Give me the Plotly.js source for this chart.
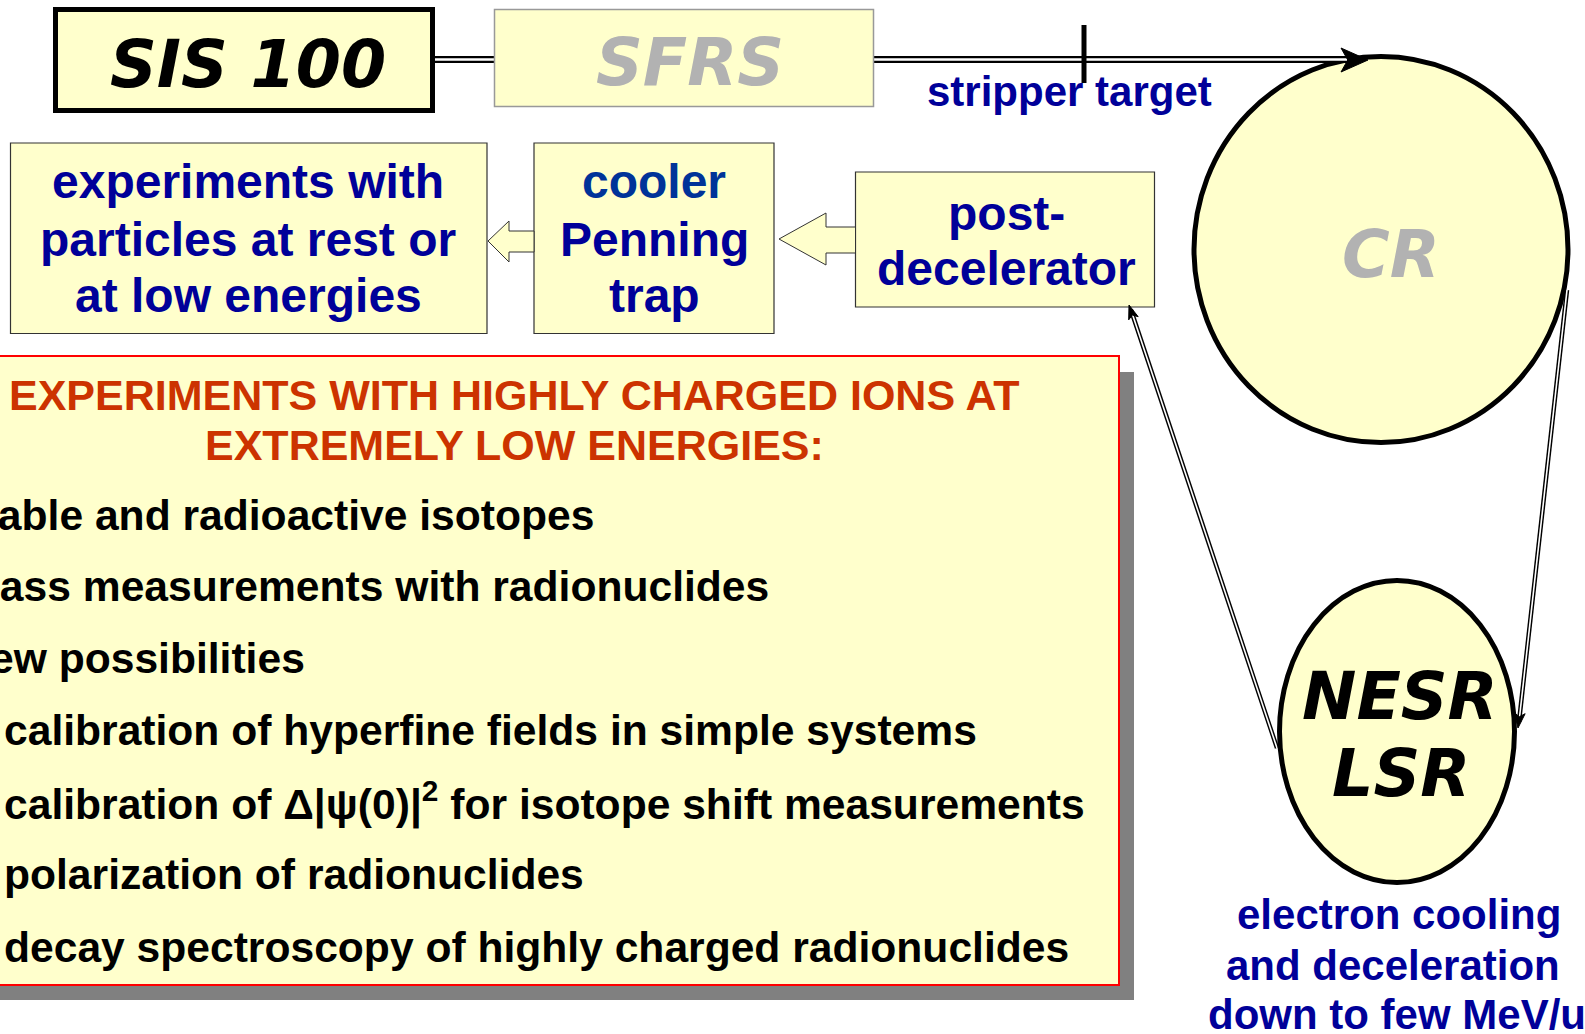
<!DOCTYPE html>
<html>
<head>
<meta charset="utf-8">
<script src="https://cdn.plot.ly/plotly-3.0.1.min.js"></script>
<style>html,body{margin:0;padding:0;background:#fff;overflow:hidden}#chart{width:1585px;height:1034px}</style>
</head>
<body>
<div id="chart"></div>
<script>
// ---- content (text) ----
const machineLabels = ["SIS 100", "SFRS", "CR", "NESR", "LSR"];
const strippertext = ["stripper target"];
const box1Lines = ["experiments with", "particles at rest or", "at low energies"];
const box2Lines = ["cooler", "Penning", "trap"];
const box3Lines = ["post-", "decelerator"];
const headingLines = ["EXPERIMENTS WITH HIGHLY CHARGED IONS AT", "EXTREMELY LOW ENERGIES:"];
const bulletLines = [
  "stable and radioactive isotopes",
  "mass measurements with radionuclides",
  "new possibilities",
  "calibration of hyperfine fields in simple systems",
  "calibration of \u0394|\u03c8(0)|<sup>2</sup> for isotope shift measurements",
  "polarization of radionuclides",
  "decay spectroscopy of highly charged radionuclides"
];
const noteLines = ["electron cooling", "and deceleration", "down to few MeV/u"];

// ---- layout geometry ----
const W = 1585, H = 1034;
const px = x => x / W, py = y => 1 - y / H;
const YEL = '#FFFFCC', NAVY = '#000099';
const shapes = [];
const rect = (x0, y0, x1, y1, fill, lc, lw) => shapes.push({type:'rect', xref:'x', yref:'y', x0, y0, x1, y1, fillcolor:fill, line:{color:lc, width:lw}, layer:'above'});
const line = (x0, y0, x1, y1, c, w) => shapes.push({type:'line', xref:'x', yref:'y', x0, y0, x1, y1, line:{color:c, width:w}, layer:'above'});
const path = (d, fill, lc, lw) => shapes.push({type:'path', xref:'x', yref:'y', path:d, fillcolor:fill, line:{color:lc, width:lw}, layer:'above'});
const ell = (x0, y0, x1, y1) => shapes.push({type:'circle', xref:'x', yref:'y', x0, y0, x1, y1, fillcolor:YEL, line:{color:'#000', width:5}, layer:'above'});
const dbl = (x0, y0, x1, y1, wb, ww) => { line(x0, y0, x1, y1, '#000', wb); line(x0, y0, x1, y1, '#fff', ww); };
function head(xs, ys, xt, yt, len, hw) {
  const dx = xt - xs, dy = yt - ys, L = Math.hypot(dx, dy), ux = dx / L, uy = dy / L;
  const bx = xt - ux * len, by = yt - uy * len;
  const nx = -uy, ny = ux;
  path(`M ${xt} ${yt} L ${bx + nx * hw} ${by + ny * hw} L ${bx + ux*len*0.25} ${by + uy*len*0.25} L ${bx - nx * hw} ${by - ny * hw} Z`, '#000', '#000', 1);
}

// CR ring (drawn first so the beam line and arrow sit on top)
ell(1194, 56.5, 1568, 442.5);
// beam line SIS -> CR
dbl(435, 59.5, 1347, 59.5, 7, 2.4);
head(1300, 60, 1368, 60, 27, 12);
// stripper target
line(1084, 25, 1084, 83, '#000', 5);
// SIS 100 and SFRS boxes
rect(55.5, 9.5, 432.5, 110.5, YEL, '#000', 5);
rect(494.5, 9.5, 873.5, 106.5, YEL, '#999999', 1.5);
// upper boxes
rect(10.5, 143, 487, 333.5, YEL, '#333333', 1.2);
rect(534, 143, 774, 333.5, YEL, '#333333', 1.2);
rect(855.5, 172, 1154.5, 307, YEL, '#333333', 1.2);
// hollow arrows
path('M 488 241 L 509 221 L 509 231 L 534 231 L 534 252 L 509 252 L 509 262 Z', YEL, '#333333', 1);
path('M 779 239 L 826 213 L 826 227 L 855.5 227 L 855.5 253 L 826 253 L 826 265 Z', YEL, '#333333', 1);
// big text panel with shadow
rect(-30, 372, 1134, 1000, '#808080', 'rgba(0,0,0,0)', 0);
rect(-30, 356, 1119, 985, YEL, '#FF0000', 2);
// transfer lines
dbl(1277, 748, 1131, 310, 4.5, 1.6);
dbl(1567, 290, 1519, 722, 4.5, 1.6);
// NESR / LSR ring
ell(1279.5, 580.5, 1514.5, 882.5);
head(1277, 748, 1129, 305, 14, 5);
head(1567, 290, 1518, 728, 15, 5.5);

// ---- texts ----
const ann = [];
const T = (text, x, y, size, color, opts = {}) => ann.push(Object.assign({
  text, x: px(x), y: py(y), xref:'paper', yref:'paper', showarrow:false,
  xanchor:'center', yanchor:'middle',
  font:{family:'Liberation Sans, Arial, sans-serif', size, color}
}, opts));
const ring = (t, x, y, color) => ann.push({text:'<b><i>' + t + '</i></b>', x:px(x), y:py(y), xref:'paper', yref:'paper', showarrow:false, xanchor:'center', yanchor:'middle', font:{family:'DejaVu Sans, Verdana, sans-serif', size:65, color}});

ring(machineLabels[0], 248, 64, '#000');
ring(machineLabels[1], 690, 63, '#B2B2B2');
ring(machineLabels[2], 1391, 254, '#B2B2B2');
ring(machineLabels[3], 1400, 696, '#000');
ring(machineLabels[4], 1401, 773, '#000');

T('<b>' + strippertext[0] + '</b>', 1069, 91.5, 42, NAVY);

const by = [181.5, 240, 295];
box1Lines.forEach((t, i) => T('<b>' + t + '</b>', 248, by[i], 48, NAVY));
box2Lines.forEach((t, i) => T('<b>' + t + '</b>', 654, by[i], 48, i === 0 ? '#003399' : NAVY));
const by3 = [213.5, 268.5];
box3Lines.forEach((t, i) => T('<b>' + t + '</b>', 1006, by3[i], 48, NAVY));

const hy = [395, 445];
headingLines.forEach((t, i) => T('<b>' + t + '</b>', 514, hy[i], 43, '#CC3300'));

const bly = [514.5, 586, 658, 730, 801, 874, 947];
const blx = [-42, -40, -38, 2, 2, 2, 2];
bulletLines.forEach((t, i) => T('<b>' + t + '</b>', blx[i], bly[i], 42.6, '#000', {xanchor:'left'}));

const ny = [914.5, 965, 1014.5];
const nx = [1399, 1393, 1397];
noteLines.forEach((t, i) => T('<b>' + t + '</b>', nx[i], ny[i], 42, NAVY));

const data = [{type:'scatter', x:[], y:[], mode:'markers', hoverinfo:'skip', showlegend:false}];
const layout = {
  width: W, height: H, autosize:false,
  margin:{l:0, r:0, t:0, b:0, pad:0},
  paper_bgcolor:'#fff', plot_bgcolor:'#fff',
  xaxis:{range:[0, W], visible:false, fixedrange:true},
  yaxis:{range:[H, 0], visible:false, fixedrange:true},
  showlegend:false,
  shapes, annotations: ann
};
Plotly.newPlot('chart', data, layout, {displayModeBar:false, staticPlot:true});
</script>
</body>
</html>
